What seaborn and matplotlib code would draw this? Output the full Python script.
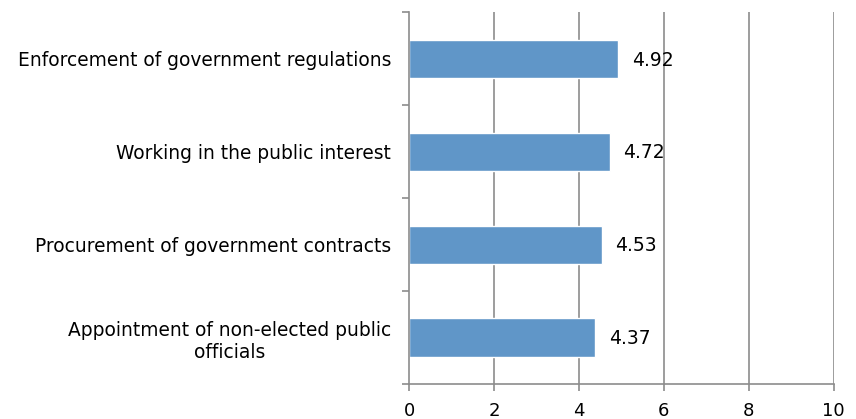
import matplotlib
matplotlib.use("Agg")
import matplotlib.pyplot as plt
import seaborn as sns
import pandas as pd
import numpy as np

# values
categories = [
    "Enforcement of government regulations",
    "Working in the public interest",
    "Procurement of government contracts",
    "Appointment of non-elected public\nofficials",
]
scores = [4.92, 4.72, 4.53, 4.37]
xticks = [0, 2, 4, 6, 8, 10]

df = pd.DataFrame({"category": categories, "score": scores})

sns.set_style("white")
plt.rcParams["font.family"] = ["DejaVu Sans"]
plt.rcParams["text.color"] = "black"

fig = plt.figure(figsize=(8.56, 4.19), dpi=100)
ax = fig.add_axes([0.478, 0.0835, 0.496, 0.8875])

sns.barplot(data=df, x="score", y="category", orient="h", color="#6096C8",
            width=0.41, saturation=1, ax=ax)

ax.set_xlim(0, 10)
ax.set_ylim(3.5, -0.5)
ax.set_xticks(xticks)
ax.set_xlabel("")
ax.set_ylabel("")

grey = "#8c8c8c"
for x in xticks[1:]:
    ax.axvline(x, color=grey, lw=1.2, zorder=0)

for s in ["top", "right"]:
    ax.spines[s].set_visible(False)
for s in ["left", "bottom"]:
    ax.spines[s].set_color(grey)
    ax.spines[s].set_linewidth(1.2)

ax.tick_params(axis="x", bottom=True, length=5, width=1.2, color=grey,
               labelcolor="black", pad=8, labelsize=13)
ax.tick_params(axis="y", which="major", left=True, length=0, pad=13,
               labelsize=13.4, labelcolor="black")
ax.set_yticks(np.arange(-0.5, 4, 1), minor=True)
ax.tick_params(axis="y", which="minor", left=True, length=5, width=1.2, color=grey)
for lab in ax.get_yticklabels():
    lab.set_multialignment("center")

for i, v in enumerate(scores):
    ax.annotate(f"{v:.2f}", (v, i), xytext=(10, -1), textcoords="offset points",
                va="center", ha="left", fontsize=13.5, color="black")

fig.savefig("out.png", dpi=100)
